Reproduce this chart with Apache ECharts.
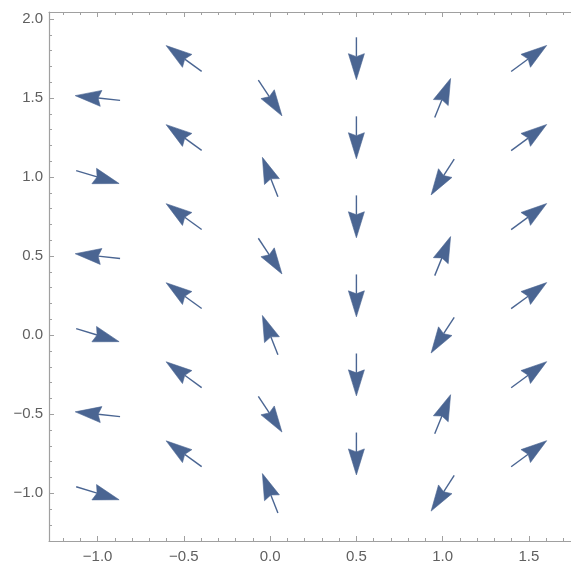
<!DOCTYPE html>
<html>
<head>
<meta charset="utf-8">
<script src="https://cdn.jsdelivr.net/npm/echarts@6/dist/echarts.min.js"></script>
<style>html,body{margin:0;padding:0;background:#fff}#c{width:571px;height:570px}</style>
</head>
<body>
<div id="c"></div>
<script>
// Arrow centers (data units) and vector components (data units)
const arrowX = [
  -1, -1, -1, -1, -1, -1,
  -0.5, -0.5, -0.5, -0.5, -0.5, -0.5,
  0, 0, 0, 0, 0, 0,
  0.5, 0.5, 0.5, 0.5, 0.5, 0.5,
  1, 1, 1, 1, 1, 1,
  1.5, 1.5, 1.5, 1.5, 1.5, 1.5
];
const arrowY = [
  1.5, 1.0, 0.5, 0, -0.5, -1.0,
  1.75, 1.25, 0.75, 0.25, -0.25, -0.75,
  1.5, 1.0, 0.5, 0, -0.5, -1.0,
  1.75, 1.25, 0.75, 0.25, -0.25, -0.75,
  1.5, 1.0, 0.5, 0, -0.5, -1.0,
  1.75, 1.25, 0.75, 0.25, -0.25, -0.75
];
const arrowU = [
  -0.26, 0.249, -0.26, 0.249, -0.26, 0.249,
  -0.206, -0.206, -0.206, -0.206, -0.206, -0.206,
  0.137, -0.09, 0.137, -0.09, 0.137, -0.09,
  0, 0, 0, 0, 0, 0,
  0.092, -0.134, 0.092, -0.134, 0.092, -0.134,
  0.206, 0.206, 0.206, 0.206, 0.206, 0.206
];
const arrowV = [
  0.03, -0.082, 0.03, -0.082, 0.03, -0.082,
  0.163, 0.163, 0.163, 0.163, 0.163, 0.163,
  -0.226, 0.249, -0.226, 0.249, -0.226, 0.249,
  -0.268, -0.268, -0.268, -0.268, -0.268, -0.268,
  0.247, -0.226, 0.247, -0.226, 0.247, -0.226,
  0.165, 0.165, 0.165, 0.165, 0.165, 0.165
];
const xMajorTicks = [-1, -0.5, 0, 0.5, 1, 1.5];
const xMinorTicks = [-1.2, -1.1, -0.9, -0.8, -0.7, -0.6, -0.4, -0.3, -0.2, -0.1, 0.1, 0.2, 0.3, 0.4, 0.6, 0.7, 0.8, 0.9, 1.1, 1.2, 1.3, 1.4, 1.6, 1.7];
const yMajorTicks = [-1, -0.5, 0, 0.5, 1, 1.5, 2];
const yMinorTicks = [-1.2, -1.1, -0.9, -0.8, -0.7, -0.6, -0.4, -0.3, -0.2, -0.1, 0.1, 0.2, 0.3, 0.4, 0.6, 0.7, 0.8, 0.9, 1.1, 1.2, 1.3, 1.4, 1.6, 1.7, 1.8, 1.9];

const X_MIN = -1.282, X_MAX = 1.744, Y_MIN = -1.302, Y_MAX = 2.044;
const AXIS_COLOR = '#a0a0a0';
const LABEL_COLOR = '#606060';
const ARROW_COLOR = '#4a6592';
const FONT = '"Liberation Sans", Arial, sans-serif';

function fmt(v) { return v.toFixed(1).replace('-', '\u2212'); }

const data = arrowX.map((x, i) => [x, arrowY[i], arrowU[i], arrowV[i]]);

function mkX(pos, ticks, len, labels, line) {
  return {
    type: 'value', position: pos, min: X_MIN, max: X_MAX,
    splitLine: { show: false },
    axisLine: { show: line, onZero: false, lineStyle: { color: AXIS_COLOR, width: 1.2 } },
    axisTick: { show: true, inside: true, length: len, customValues: ticks, lineStyle: { color: AXIS_COLOR, width: 1 } },
    axisLabel: labels ? { show: true, customValues: ticks, formatter: fmt, color: LABEL_COLOR, fontSize: 15, fontFamily: FONT, margin: 8 } : { show: false }
  };
}
function mkY(ticks, len, labels, line) {
  return {
    type: 'value', position: 'left', min: Y_MIN, max: Y_MAX,
    splitLine: { show: false },
    axisLine: { show: line, onZero: false, lineStyle: { color: AXIS_COLOR, width: 1.2 } },
    axisTick: { show: true, inside: true, length: len, customValues: ticks, lineStyle: { color: AXIS_COLOR, width: 1 } },
    axisLabel: labels ? { show: true, customValues: ticks, formatter: fmt, color: LABEL_COLOR, fontSize: 15, fontFamily: FONT, margin: 6 } : { show: false }
  };
}

const chart = echarts.init(document.getElementById('c'), null, { renderer: 'canvas' });
chart.setOption({
  animation: false,
  backgroundColor: '#ffffff',
  grid: { left: 49, right: 0, top: 12, bottom: 29, containLabel: false },
  xAxis: [
    mkX('bottom', xMajorTicks, 5, true, true),
    mkX('bottom', xMinorTicks, 3, false, false),
    mkX('top', xMajorTicks, 5, false, true),
    mkX('top', xMinorTicks, 3, false, false)
  ],
  yAxis: [
    mkY(yMajorTicks, 5, true, true),
    mkY(yMinorTicks, 3, false, false)
  ],
  series: [{
    type: 'custom',
    xAxisIndex: 0, yAxisIndex: 0,
    data: data,
    clip: false,
    renderItem: function (params, api) {
      const cx = api.value(0), cy = api.value(1), u = api.value(2), v = api.value(3);
      const tail = api.coord([cx - u / 2, cy - v / 2]);
      const tip = api.coord([cx + u / 2, cy + v / 2]);
      const dx = tip[0] - tail[0], dy = tip[1] - tail[1];
      const len = Math.sqrt(dx * dx + dy * dy);
      const ux = dx / len, uy = dy / len;
      const px = -uy, py = ux;
      const H = 26, W = 8, N = 3;
      const bx = tip[0] - ux * H, by = tip[1] - uy * H;
      const nx = tip[0] - ux * (H - N), ny = tip[1] - uy * (H - N);
      return {
        type: 'group',
        children: [
          { type: 'line', shape: { x1: tail[0], y1: tail[1], x2: nx, y2: ny },
            style: { stroke: ARROW_COLOR, lineWidth: 1.4 } },
          { type: 'polygon', shape: { points: [
              [tip[0], tip[1]],
              [bx + px * W, by + py * W],
              [nx, ny],
              [bx - px * W, by - py * W]
            ] },
            style: { fill: ARROW_COLOR, stroke: ARROW_COLOR, lineWidth: 0.6, lineJoin: 'miter' } }
        ]
      };
    }
  }]
});
</script>
</body>
</html>
